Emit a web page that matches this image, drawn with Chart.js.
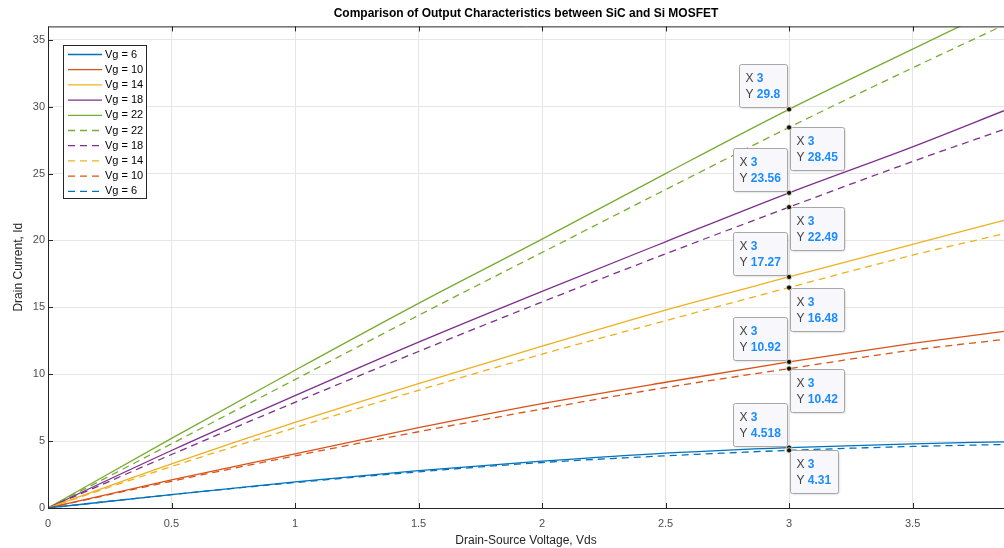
<!DOCTYPE html>
<html>
<head>
<meta charset="utf-8">
<script src="https://cdn.jsdelivr.net/npm/chart.js@4.4.1/dist/chart.umd.min.js"></script>
<style>
  html, body { margin: 0; padding: 0; background: #fff; }
  #wrap { width: 1004px; height: 548px; }
</style>
</head>
<body>
<div id="wrap"><canvas id="chart" width="1004" height="548"></canvas></div>
<script>
// Vds samples
const vds = [0, 0.5, 1, 1.5, 2, 2.5, 3, 3.5, 3.87];

// SiC (solid)
const sic6  = [0, 1.0, 1.95, 2.8, 3.5, 4.1, 4.518, 4.8, 4.95];
const sic10 = [0, 2.1, 4.05, 6.0, 7.8, 9.4, 10.92, 12.3, 13.2];
const sic14 = [0, 3.3, 6.4, 9.3, 12.1, 14.8, 17.27, 19.7, 21.5];
const sic18 = [0, 4.3, 8.4, 12.4, 16.2, 19.9, 23.56, 27.0, 29.7];
const sic22 = [0, 5.2, 10.3, 15.3, 20.1, 25.0, 29.8, 34.3, 37.6];

// Si (dashed)
const si22 = [0, 4.8, 9.6, 14.4, 19.1, 23.8, 28.45, 32.9, 36.1];
const si18 = [0, 4.0, 7.9, 11.7, 15.4, 19.0, 22.49, 25.9, 28.3];
const si14 = [0, 3.1, 6.0, 8.8, 11.5, 14.0, 16.48, 18.9, 20.5];
const si10 = [0, 2.0, 3.9, 5.7, 7.4, 9.0, 10.42, 11.8, 12.6];
const si6  = [0, 1.0, 1.9, 2.7, 3.4, 3.9, 4.31, 4.6, 4.75];

const labels = ['Vg = 6', 'Vg = 10', 'Vg = 14', 'Vg = 18', 'Vg = 22', 'Vg = 22', 'Vg = 18', 'Vg = 14', 'Vg = 10', 'Vg = 6'];
const series = [sic6, sic10, sic14, sic18, sic22, si22, si18, si14, si10, si6];
const colors = ['#0072BD', '#D95319', '#EDB120', '#7E2F8E', '#77AC30', '#77AC30', '#7E2F8E', '#EDB120', '#D95319', '#0072BD'];
const dashed = [false, false, false, false, false, true, true, true, true, true];

const xTicks = [0, 0.5, 1, 1.5, 2, 2.5, 3, 3.5];
const yTicks = [0, 5, 10, 15, 20, 25, 30, 35];
const tipX = 3;

const FONT = '"Liberation Sans", Arial, Helvetica, sans-serif';

const datasets = series.map((s, i) => ({
    label: labels[i],
    data: s.map((y, j) => ({ x: vds[j], y })),
    borderColor: colors[i],
    backgroundColor: colors[i],
    borderWidth: 1.3,
    borderDash: dashed[i] ? [7, 5] : [],
    pointRadius: 0,
    tension: 0,
    cubicInterpolationMode: 'monotone',
    fill: false
}));

const axisPlugin = {
    id: 'axisBox',
    afterDatasetsDraw(chart) {
        const { ctx, chartArea: a, scales: { x, y } } = chart;
        ctx.save();
        ctx.strokeStyle = '#262626';
        ctx.lineWidth = 1;
        ctx.beginPath();
        ctx.moveTo(a.left + 0.5, a.bottom + 0.5);
        ctx.lineTo(a.left + 0.5, a.top + 0.5);
        ctx.lineTo(a.right, a.top + 0.5);
        ctx.moveTo(a.left, a.bottom + 0.5);
        ctx.lineTo(a.right, a.bottom + 0.5);
        xTicks.forEach(t => {
            const px = Math.round(x.getPixelForValue(t)) + 0.5;
            ctx.moveTo(px, a.bottom);
            ctx.lineTo(px, a.bottom - 5);
            ctx.moveTo(px, a.top);
            ctx.lineTo(px, a.top + 5);
        });
        yTicks.forEach(t => {
            const py = Math.round(y.getPixelForValue(t)) + 0.5;
            ctx.moveTo(a.left, py);
            ctx.lineTo(a.left + 5, py);
        });
        ctx.stroke();
        ctx.restore();
    }
};

const tipPlugin = {
    id: 'dataTips',
    afterDraw(chart) {
        const { ctx, scales: { x, y } } = chart;
        const idx = vds.indexOf(tipX);
        ctx.save();
        series.forEach((s, i) => {
            const px = x.getPixelForValue(tipX);
            const py = y.getPixelForValue(s[idx]);
            const val = String(s[idx]);
            ctx.font = 'bold 12px ' + FONT;
            const vw = ctx.measureText(val).width;
            ctx.font = '12px ' + FONT;
            const lw = ctx.measureText('Y ').width;
            const w = Math.round(lw + vw + 13);
            const h = 43;
            let bx, by;
            if (!dashed[i]) {
                bx = px - 2 - w;
                by = py - 2 - h;
            } else {
                bx = px + 1;
                by = py;
            }
            bx = Math.round(bx) + 0.5;
            by = Math.round(by) + 0.5;
            ctx.shadowColor = 'rgba(0,0,0,0.15)';
            ctx.shadowBlur = 2;
            ctx.shadowOffsetX = 1;
            ctx.shadowOffsetY = 1;
            ctx.fillStyle = '#f8f8fc';
            ctx.beginPath();
            ctx.roundRect(bx, by, w, h, 2);
            ctx.fill();
            ctx.shadowColor = 'transparent';
            ctx.strokeStyle = '#a6a6a6';
            ctx.lineWidth = 1;
            ctx.stroke();
            ctx.textBaseline = 'middle';
            ctx.textAlign = 'left';
            ctx.fillStyle = '#404040';
            ctx.font = '12px ' + FONT;
            ctx.fillText('X', bx + 6, by + 14);
            ctx.fillText('Y', bx + 6, by + 30);
            ctx.fillStyle = '#1a8cff';
            ctx.font = 'bold 12px ' + FONT;
            ctx.fillText(String(tipX), bx + 6 + lw, by + 14);
            ctx.fillText(val, bx + 6 + lw, by + 30);
        });
        // dots on top
        series.forEach((s, i) => {
            const px = x.getPixelForValue(tipX);
            const py = y.getPixelForValue(s[idx]);
            ctx.beginPath();
            ctx.arc(px, py, 2.6, 0, Math.PI * 2);
            ctx.fillStyle = '#111';
            ctx.fill();
            ctx.strokeStyle = '#f5f0c8';
            ctx.lineWidth = 0.8;
            ctx.stroke();
        });
        ctx.restore();
    }
};

const legendPlugin = {
    id: 'boxLegend',
    afterDraw(chart) {
        const { ctx } = chart;
        const lx = 63, ly = 45, lw = 83, lh = 153;
        ctx.save();
        ctx.fillStyle = '#fff';
        ctx.fillRect(lx, ly, lw, lh);
        ctx.strokeStyle = '#262626';
        ctx.lineWidth = 1;
        ctx.strokeRect(lx + 0.5, ly + 0.5, lw, lh);
        ctx.font = '11px ' + FONT;
        ctx.textBaseline = 'middle';
        labels.forEach((lab, i) => {
            const yy = ly + 9.5 + i * 15.2;
            ctx.strokeStyle = colors[i];
            ctx.lineWidth = 1.3;
            ctx.setLineDash(dashed[i] ? [7, 5] : []);
            ctx.beginPath();
            ctx.moveTo(lx + 5, yy);
            ctx.lineTo(lx + 39, yy);
            ctx.stroke();
            ctx.setLineDash([]);
            ctx.fillStyle = '#000';
            ctx.fillText(lab, lx + 42, yy);
        });
        ctx.restore();
    }
};

new Chart(document.getElementById('chart'), {
    type: 'line',
    data: { datasets },
    options: {
        responsive: false,
        animation: false,
        layout: { padding: { right: 0, left: 0, bottom: 0 } },
        plugins: {
            legend: { display: false },
            tooltip: { enabled: false },
            title: {
                display: true,
                text: 'Comparison of Output Characteristics between SiC and Si MOSFET',
                color: '#000',
                fullSize: false,
                font: { family: FONT, size: 12, weight: 'bold' },
                padding: { top: 6, bottom: 6 }
            }
        },
        scales: {
            x: {
                type: 'linear',
                min: 0,
                max: 3.87,
                afterBuildTicks: s => { s.ticks = xTicks.map(v => ({ value: v })); },
                afterFit: s => { s.height = 40; },
                grid: { color: '#e6e6e6', drawTicks: false },
                border: { display: false },
                ticks: {
                    color: '#4d4d4d',
                    padding: 9,
                    maxRotation: 0,
                    font: { family: FONT, size: 11 },
                    callback: v => String(v)
                },
                title: {
                    display: true,
                    text: 'Drain-Source Voltage, Vds',
                    color: '#262626',
                    font: { family: FONT, size: 12 },
                    padding: { top: 0, bottom: 0 }
                }
            },
            y: {
                min: 0,
                max: 36,
                afterBuildTicks: s => { s.ticks = yTicks.map(v => ({ value: v })); },
                afterFit: s => { s.width = 48; },
                grid: { color: '#e6e6e6', drawTicks: false },
                border: { display: false },
                ticks: {
                    color: '#4d4d4d',
                    padding: 3,
                    font: { family: FONT, size: 11 }
                },
                title: {
                    display: true,
                    text: 'Drain Current, Id',
                    color: '#262626',
                    font: { family: FONT, size: 12 },
                    padding: { top: 11, bottom: 0 }
                }
            }
        }
    },
    plugins: [axisPlugin, tipPlugin, legendPlugin]
});
</script>
</body>
</html>
